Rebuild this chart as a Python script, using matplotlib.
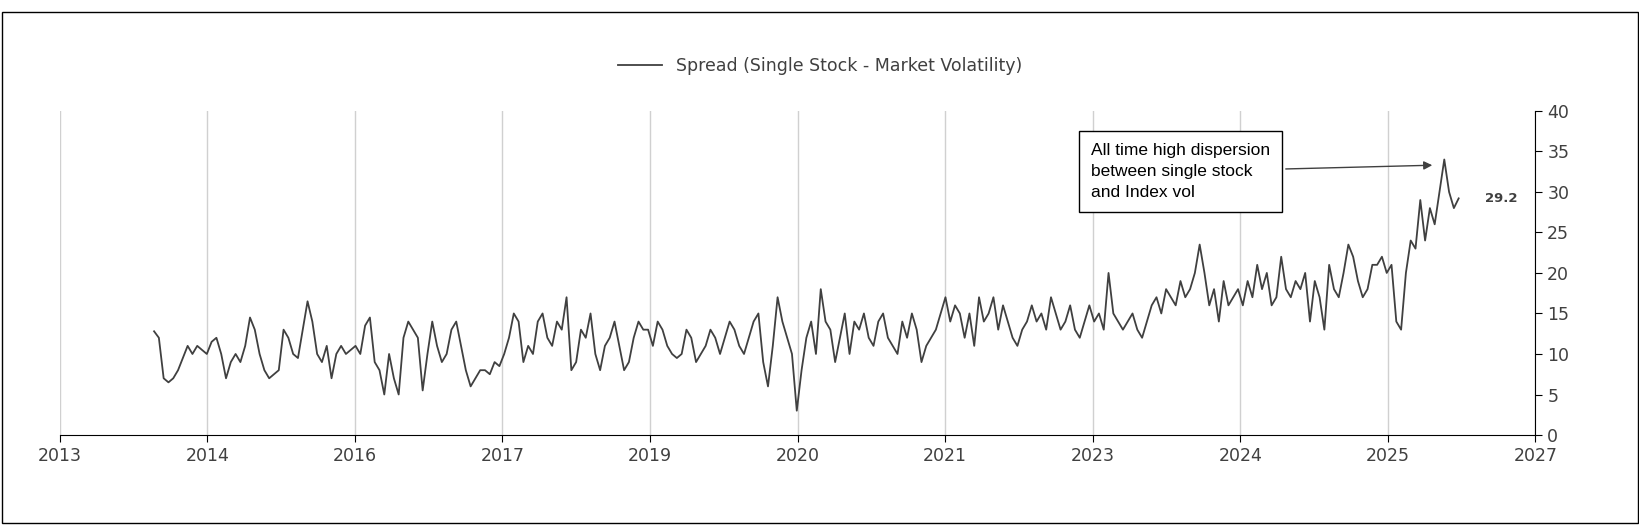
import numpy as np
import matplotlib.pyplot as plt
from matplotlib.patches import Rectangle

## Data (roughly weekly)
tick_labels = ["2013", "2014", "2016", "2017", "2019", "2020", "2021", "2023", "2024", "2025", "2027"]
spread = [
    12.8, 12, 7, 6.5, 7, 8, 9.5, 11, 10, 11, 10.5, 10, 11.5,
    12, 10, 7, 9, 10, 9, 11, 14.5, 13, 10, 8, 7, 7.5, 8, 13, 12, 10, 9.5, 13, 16.5, 14, 10, 9, 11, 7, 10, 11, 10, 10.5, 11, 10,
    13.5, 14.5, 9, 8, 5, 10, 7, 5, 12, 14, 13, 12, 5.5, 10, 14, 11, 9, 10, 13, 14, 11, 8, 6, 7, 8, 8, 7.5, 9, 8.5, 10, 12, 15, 14, 9,
    11, 10, 14, 15, 12, 11, 14, 13, 17, 8, 9, 13, 12, 15, 10, 8, 11, 12, 14, 11, 8, 9, 12, 14, 13, 13, 11, 14, 13, 11,
    10, 9.5, 10, 13, 12, 9, 10, 11, 13, 12, 10, 12, 14, 13, 11, 10, 12, 14, 15, 9, 6, 11, 17, 14, 12, 10,
    3, 8, 12, 14, 10, 18, 14, 13, 9, 12, 15, 10, 14, 13, 15, 12, 11, 14, 15, 12, 11, 10, 14, 12, 15, 13, 9, 11, 12,
    13, 15, 17, 14, 16, 15, 12, 15, 11, 17, 14, 15, 17, 13, 16, 14, 12, 11, 13, 14, 16, 14, 15, 13, 17, 15, 13, 14, 16, 13, 12,
    14, 16, 14, 15, 13, 20, 15, 14, 13, 14, 15, 13, 12, 14, 16, 17, 15, 18, 17, 16, 19, 17, 18, 20, 23.5, 20, 16, 18,
    14, 19, 16, 17, 18, 16, 19, 17, 21, 18, 20, 16, 17, 22, 18, 17, 19, 18, 20, 14, 19, 17, 13, 21, 18, 17, 20, 23.5, 22, 19, 17, 18, 21,
    21, 22, 20, 21, 14, 13, 20, 24, 23, 29, 24, 28, 26, 30, 34, 30, 28, 29.2,
]
last_value = 29.2

W, H = 1568, 503  # layout measured on a 1568-wide view, scaled to 1640x526
fig = plt.figure(figsize=(16.4, 5.26), dpi=100)
fig.patches.append(Rectangle((2 / W, 3 / H), 1 - 4 / W, 1 - 14 / H, transform=fig.transFigure,
                             fill=False, edgecolor="black", linewidth=1))

ax = fig.add_axes([57 / W, 1 - 416 / H, (1468 - 57) / W, (416 - 106) / H])
x = np.linspace(0.64, 9.48, len(spread))
ax.plot(x, spread, color="#404040", linewidth=1.3, label="Spread (Single Stock - Market Volatility)")

ax.set_xlim(0, 10)
ax.set_ylim(0, 40)
ax.set_xticks(range(11))
ax.set_xticklabels(tick_labels, fontsize=12.5, color="#404040")
ax.set_yticks(range(0, 41, 5))
ax.yaxis.tick_right()
ax.tick_params(axis="y", labelsize=12.5, labelcolor="#404040", length=5)
ax.tick_params(axis="x", length=5)
ax.grid(axis="x", color="#d0d0d0", linewidth=1)
ax.spines["top"].set_visible(False)
ax.spines["left"].set_visible(False)

fig.legend(loc="center", bbox_to_anchor=(0.5, 1 - 63 / H), frameon=False, fontsize=12.5,
           labelcolor="#404040", handlelength=2.5)

ax.annotate("All time high dispersion\nbetween single stock\nand Index vol",
            xy=(9.32, 33.3), xytext=(6.99, 32.5), textcoords="data",
            fontsize=12.5, family="Liberation Sans", va="center", ha="left", linespacing=1.5,
            bbox=dict(boxstyle="square,pad=0.7", fc="white", ec="black", lw=1),
            arrowprops=dict(arrowstyle="-|>", color="#404040", lw=1))
ax.text(9.66, last_value, f"{last_value}", fontsize=9.5, fontweight="bold", color="#404040", va="center")

fig.savefig("out.png", dpi=100)
